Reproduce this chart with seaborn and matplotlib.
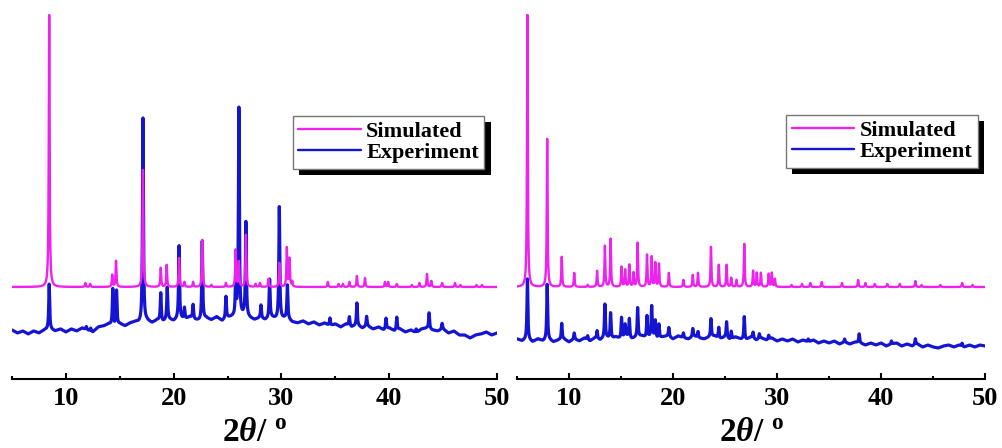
import numpy as np
import pandas as pd
import matplotlib
matplotlib.use('Agg')
import matplotlib.pyplot as plt
import matplotlib.patheffects as pe
import seaborn as sns

# ---- data (2theta in degrees, intensity in arb. units) ----

# left sample: simulated pattern peaks
left_sim_pos = [8.45, 11.8, 12.25, 14.3, 14.65, 17.15, 18.8, 19.35, 20.5, 21.0, 21.8,
                22.65, 23.5, 24.85, 25.75, 26.05, 26.7, 27.6, 28.0, 28.8, 29.8, 30.5,
                30.75, 31.0, 34.3, 35.3, 35.7, 36.3, 37.0, 37.75, 39.6, 39.9, 40.7,
                42.1, 42.8, 43.5, 43.9, 44.9, 46.1, 46.6, 48.1, 48.6]
left_sim_int = [272, 4, 3, 12, 26, 117, 19, 22, 29, 5, 5,
                47, 2, 4, 37, 25, 52, 3, 4, 8, 24, 39,
                28, 5, 5, 3, 3, 5, 11, 9, 5, 5, 3,
                2, 4, 13, 6, 4, 4, 2, 2, 2]

# left sample: experimental pattern peaks
left_exp_pos = [8.45, 11.9, 12.3, 14.35, 14.7, 17.15, 18.8, 19.4, 20.5, 21.0, 21.8,
                22.65, 24.85, 25.75, 26.05, 26.7, 28.1, 28.9, 29.8, 30.55, 34.5,
                36.3, 37.0, 37.9, 39.7, 40.7, 42.5, 43.7, 44.9]
left_exp_int = [45, 3, 3, 37, 35, 205, 28, 32, 72, 12, 14,
                79, 22, 35, 210, 94, 13, 38, 112, 33, 8,
                9, 22, 10, 11, 13, 4, 16, 6]

# left sample: experimental background, every 0.5 deg from 5 to 50
left_exp_bg = [49, 46, 48, 45, 48, 46, 49, 50, 48, 50,
               47, 50, 48, 51, 49, 47, 52, 53, 55, 52,
               55, 53, 56, 57, 55, 58, 56, 59, 57, 60,
               58, 61, 59, 62, 59, 58, 61, 59, 62, 58,
               61, 62, 60, 63, 61, 59, 61, 59, 62, 60,
               60, 61, 57, 56, 58, 55, 57, 54, 56, 53,
               55, 52, 55, 52, 54, 51, 53, 50, 52, 49,
               51, 48, 50, 47, 49, 46, 50, 51, 49, 48,
               50, 46, 48, 44, 44, 41, 44, 45, 47, 44,
               46]

# right sample: simulated pattern peaks
right_sim_pos = [6.0, 7.9, 9.3, 10.5, 11.8, 12.7, 13.45, 14.0, 15.05, 15.4, 15.8,
                 16.2, 16.6, 17.5, 17.95, 18.3, 18.65, 19.6, 21.0, 21.9, 22.4,
                 23.65, 24.4, 25.15, 25.6, 26.1, 26.85, 27.7, 28.05, 28.45, 29.2,
                 29.5, 29.8, 31.4, 32.4, 33.2, 34.3, 36.25, 37.8, 38.5, 39.4,
                 40.6, 41.8, 43.3, 43.9, 45.7, 47.8, 48.8]
right_sim_int = [272, 148, 30, 14, 2, 16, 41, 48, 20, 17, 22,
                 14, 44, 32, 30, 24, 23, 14, 7, 12, 14,
                 40, 22, 22, 9, 7, 43, 16, 14, 14, 13,
                 14, 8, 2, 3, 4, 5, 4, 7, 4, 3,
                 3, 3, 6, 2, 2, 4, 2]

# right sample: experimental pattern peaks
right_exp_pos = [6.0, 7.9, 9.3, 10.5, 11.8, 12.7, 13.45, 14.0, 15.05, 15.4, 15.8,
                 16.6, 17.5, 17.95, 18.3, 18.65, 19.6, 21.0, 21.9, 22.4, 23.65,
                 24.4, 25.15, 25.6, 26.85, 27.7, 28.3, 29.2, 33.0, 36.5, 37.9,
                 41.0, 43.3, 47.8]
right_exp_int = [60, 55, 16, 6, 4, 8, 33, 26, 21, 12, 19,
                 29, 22, 30, 17, 14, 9, 5, 8, 6, 18,
                 11, 16, 8, 23, 6, 5, 4, 3, 3, 9,
                 3, 6, 3]

# right sample: experimental background, every 0.5 deg from 5 to 50
right_exp_bg = [40, 38, 40, 37, 40, 38, 40, 37, 39, 40,
                37, 40, 38, 41, 38, 41, 39, 42, 40, 42,
                40, 43, 40, 42, 43, 41, 43, 40, 42, 43,
                40, 43, 41, 40, 43, 41, 40, 42, 43, 40,
                42, 39, 42, 40, 39, 42, 39, 41, 39, 41,
                38, 40, 38, 40, 37, 39, 37, 39, 36, 38,
                36, 38, 35, 37, 35, 37, 36, 34, 36, 34,
                36, 33, 35, 36, 33, 35, 33, 35, 32, 34,
                32, 31, 33, 34, 32, 34, 32, 34, 32, 34,
                33]

bg_theta = np.arange(5.0, 50.01, 0.5)

SIM_OFFSET = 92
MAGENTA = '#EE22EE'
BLUE = '#1414D2'


def pattern(grid, pos, inten, hw):
    # sum of narrow lorentzian lines at the listed peak positions
    y = np.zeros_like(grid)
    for p, h in zip(pos, inten):
        y += h * hw**2 / ((grid - p) ** 2 + hw**2)
    return y


sns.set_style('white')
plt.rcParams['font.family'] = ['Liberation Serif', 'DejaVu Serif']
plt.rcParams['font.weight'] = 'bold'
plt.rcParams['text.color'] = 'black'
plt.rcParams['axes.labelcolor'] = 'black'
plt.rcParams['xtick.color'] = 'black'
plt.rcParams['mathtext.fontset'] = 'custom'
plt.rcParams['mathtext.rm'] = 'Liberation Serif:bold'
plt.rcParams['mathtext.bf'] = 'Liberation Serif:bold'
plt.rcParams['mathtext.it'] = 'Liberation Serif:italic:bold'

grid = np.round(np.linspace(5, 50, 4501), 2)

panels = [
    (left_sim_pos, left_sim_int, left_exp_pos, left_exp_int, left_exp_bg),
    (right_sim_pos, right_sim_int, right_exp_pos, right_exp_int, right_exp_bg),
]
boxes = [[12 / 1003, 69 / 448, 485 / 1003, 369 / 448],
         [517 / 1003, 69 / 448, 468 / 1003, 369 / 448]]
legend_anchor = [(0.579, 0.713), (0.575, 0.715)]

fig = plt.figure(figsize=(10.03, 4.48), dpi=100)

for i, (sp, si, ep, ei, bg) in enumerate(panels):
    ax = fig.add_axes(boxes[i])
    sim = SIM_OFFSET + pattern(grid, sp, si, 0.045)
    exp = np.interp(grid, bg_theta, bg) + pattern(grid, ep, ei, 0.05)
    df = pd.DataFrame({'theta': grid, 'Simulated': sim, 'Experiment': exp})

    sns.lineplot(data=df, x='theta', y='Experiment', ax=ax, color=BLUE, lw=2.3,
                 estimator=None, sort=False, label='Experiment', zorder=2)
    sns.lineplot(data=df, x='theta', y='Simulated', ax=ax, color=MAGENTA, lw=1.7,
                 estimator=None, sort=False, label='Simulated', zorder=3)

    ax.set_xlim(5, 50)
    ax.set_ylim(0, 369)
    ax.set_yticks([])
    ax.set_ylabel('')
    for s in ['left', 'top', 'right']:
        ax.spines[s].set_visible(False)
    ax.spines['bottom'].set_linewidth(1.5)
    ax.spines['bottom'].set_color('black')
    ax.set_xticks([10, 20, 30, 40, 50])
    ax.set_xticks([5, 15, 25, 35, 45], minor=True)
    ax.tick_params(axis='x', which='major', direction='in', length=4, width=1.5,
                   labelsize=19, pad=6, bottom=True, colors='black')
    ax.tick_params(axis='x', which='minor', direction='in', length=2, width=1.5,
                   bottom=True, colors='black')
    ax.set_xlabel(r'$2\theta/\ ^{\mathrm{o}}$', fontsize=24, labelpad=5)
    ax.patch.set_alpha(0)

    h, l = ax.get_legend_handles_labels()
    order = [l.index('Simulated'), l.index('Experiment')]
    leg = ax.legend([h[k] for k in order], [l[k] for k in order],
                    loc='upper left', bbox_to_anchor=legend_anchor[i],
                    borderaxespad=0, fancybox=False, framealpha=1,
                    edgecolor='#777777', fontsize=16, handlelength=2.8,
                    handletextpad=0.25, borderpad=0.25, labelspacing=0.02)
    leg.get_frame().set_linewidth(1.0)
    leg.get_frame().set_path_effects([
        pe.SimplePatchShadow(offset=(4.5, -4.5), shadow_rgbFace='black', alpha=1),
        pe.Normal()])
    for line in leg.get_lines():
        line.set_linewidth(1.7)

fig.savefig('out.png', dpi=100)
